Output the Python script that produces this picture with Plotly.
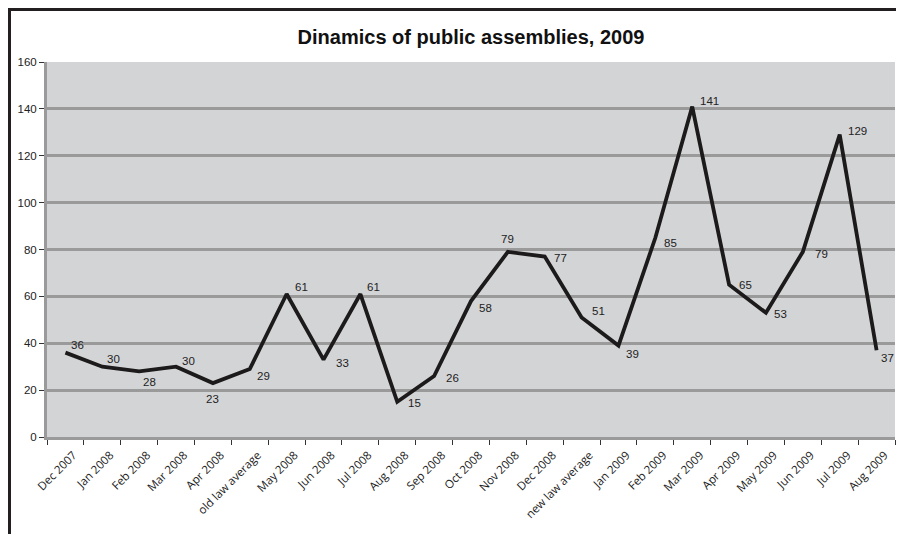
import plotly.graph_objects as go

categories = ["Dec 2007", "Jan 2008", "Feb 2008", "Mar 2008", "Apr 2008", "old law average",
              "May 2008", "Jun 2008", "Jul 2008", "Aug 2008", "Sep 2008", "Oct 2008",
              "Nov 2008", "Dec 2008", "new law average", "Jan 2009", "Feb 2009", "Mar 2009",
              "Apr 2009", "May 2009", "Jun 2009", "Jul 2009", "Aug 2009"]
values = [36, 30, 28, 30, 23, 29, 61, 33, 61, 15, 26, 58, 79, 77, 51, 39, 85, 141, 65, 53, 79, 129, 37]
y_ticks = [0, 20, 40, 60, 80, 100, 120, 140, 160]

# label placement (pixel offsets of data labels from their points)
label_dx = [4, 3, 2, 4, 0, 5, 6, 10, 5, 9, 10, 6, 0, 7, 8, 6, 7, 6, 8, 6, 10, 6, 2]
label_dy = [8, 8, -11, 6, -16, -7, 7, -3, 7, -1, -2, -7, 13, -1, 6, -8, -5, 6, 0, -1, -2, 4, -8]
label_center = [False, False, False, False, True, False, False, False, False, False, False, False,
                True, False, False, False, False, False, False, False, False, False, False]

W, H = 888, 526
ML, MR, MT, MB = 39, 1, 54, 97
PW, PH = W - ML - MR, H - MT - MB

fig = go.Figure()
fig.add_trace(go.Scatter(
    x=categories, y=values, mode="lines",
    line=dict(color="#1c1a1a", width=3.8),
    hoverinfo="x+y",
))

annotations = []
for c, v, dx, dy, ctr in zip(categories, values, label_dx, label_dy, label_center):
    annotations.append(dict(
        x=c, y=v, xref="x", yref="y", text=str(v), showarrow=False,
        xanchor="center" if ctr else "left", yanchor="middle",
        xshift=dx, yshift=dy,
        font=dict(family="Liberation Sans, Arial", size=11.5, color="#222222"),
    ))

fig.update_layout(
    width=W, height=H,
    margin=dict(l=ML, r=MR, t=MT, b=MB, autoexpand=False),
    paper_bgcolor="white", plot_bgcolor="#d3d4d6",
    showlegend=False,
    title=dict(text="<b>Dinamics of public assemblies, 2009</b>", x=0.5, xref="paper",
               xanchor="center", y=1 - 29 / H, yanchor="middle",
               font=dict(family="Liberation Sans, Arial", size=20, color="#111111")),
    xaxis=dict(
        type="category", tickson="boundaries", ticks="outside", ticklen=5,
        tickcolor="#333333", tickwidth=1, tickangle=-45,
        tickfont=dict(family="Open Sans, Lato, sans-serif", size=11.5, color="#222222"),
        ticklabelshift=8, ticklabelstandoff=4,
        showgrid=False, showline=True, linecolor="#9a9a9a", linewidth=3,
        range=[-0.5, len(categories) - 0.5], automargin=False,
    ),
    yaxis=dict(
        range=[0, 160], tickvals=y_ticks, ticks="outside", ticklen=5,
        tickcolor="#333333", tickwidth=1,
        tickfont=dict(family="Liberation Sans, Arial", size=11.5, color="#222222"),
        showgrid=True, gridcolor="#9a9a9a", gridwidth=2.5,
        showline=True, linecolor="#9a9a9a", linewidth=3, zeroline=False, automargin=False,
    ),
    annotations=annotations,
    shapes=[
        dict(type="line", xref="paper", yref="paper",
             x0=(0 - ML) / PW, x1=(W - ML) / PW, y0=1 + (MT - 1.5) / PH, y1=1 + (MT - 1.5) / PH,
             line=dict(color="#231f20", width=3)),
        dict(type="line", xref="paper", yref="paper",
             x0=(1.5 - ML) / PW, x1=(1.5 - ML) / PW, y0=-(MB) / PH, y1=1 + MT / PH,
             line=dict(color="#231f20", width=3)),
    ],
)

fig.write_html("out.html")
